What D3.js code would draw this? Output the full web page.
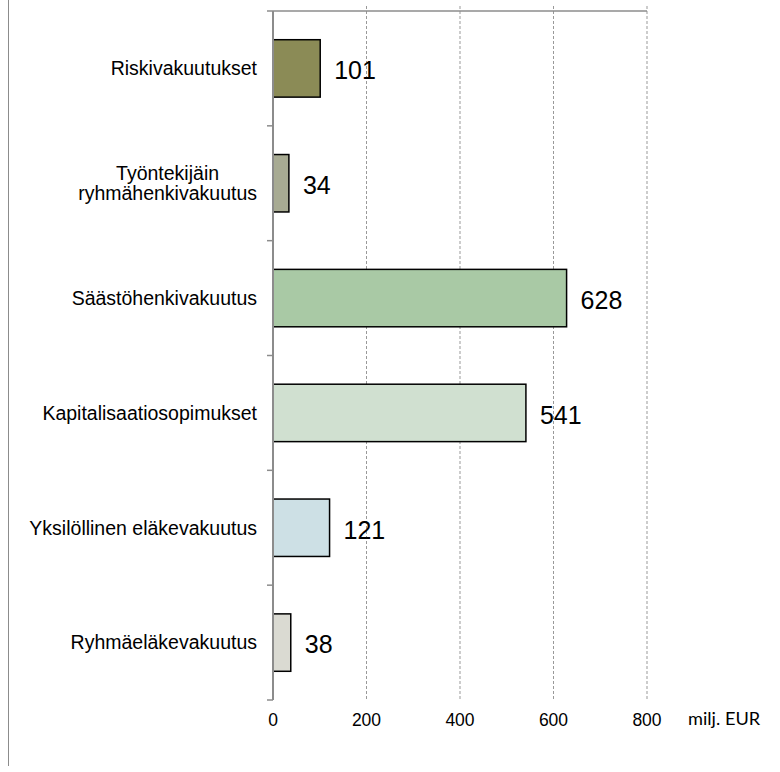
<!DOCTYPE html>
<html>
<head>
<meta charset="utf-8">
<script src="https://cdn.jsdelivr.net/npm/d3@7"></script>
<style>
  body { margin: 0; background: #fff; }
  text { font-family: Arial, "Liberation Sans", sans-serif; }
</style>
</head>
<body>
<svg id="chart" width="780" height="772"></svg>
<script>
// data
var categories = [
  ["Riskivakuutukset"],
  ["Työntekijäin", "ryhmähenkivakuutus"],
  ["Säästöhenkivakuutus"],
  ["Kapitalisaatiosopimukset"],
  ["Yksilöllinen eläkevakuutus"],
  ["Ryhmäeläkevakuutus"]
];
var values = [101, 34, 628, 541, 121, 38];
var colors = ["#8b8b56", "#a8ab93", "#a9c9a5", "#d0e0d0", "#cde0e5", "#dadad2"];
var xTicks = [0, 200, 400, 600, 800];
var unitLabel = "milj. EUR";

var svg = d3.select("#chart");
var margin = {left: 273, top: 11, right: 133, bottom: 72};
var W = 780, H = 772;

var x = d3.scaleLinear().domain([0, 800]).range([margin.left, W - margin.right]);
var y = d3.scaleBand().domain(d3.range(values.length))
  .range([margin.top, H - margin.bottom]).paddingInner(0.5).paddingOuter(0.25);

// outer left frame line
svg.append("line").attr("x1", 8.5).attr("x2", 8.5).attr("y1", 0).attr("y2", 766)
  .attr("stroke", "#8c8c8c").attr("stroke-width", 1);

// grid lines
svg.append("g").selectAll("line").data(xTicks.slice(1)).join("line")
  .attr("x1", d => x(d)).attr("x2", d => x(d))
  .attr("y1", margin.top - 5).attr("y2", H - margin.bottom)
  .attr("stroke", "#999").attr("stroke-width", 1).attr("stroke-dasharray", "3,2");

// top line
svg.append("line").attr("x1", x(0)).attr("x2", x(800))
  .attr("y1", margin.top).attr("y2", margin.top)
  .attr("stroke", "#8c8c8c").attr("stroke-width", 1.5);

// bars
svg.append("g").selectAll("rect").data(values).join("rect")
  .attr("x", x(0))
  .attr("y", (d, i) => y(i))
  .attr("width", d => x(d) - x(0))
  .attr("height", y.bandwidth())
  .attr("fill", (d, i) => colors[i])
  .attr("stroke", "#000").attr("stroke-width", 1.5);

// left axis
var yAxisG = svg.append("g").attr("transform", "translate(" + x(0) + ",0)");
var stepEdges = d3.range(values.length + 1).map(i => margin.top + i * y.step());
yAxisG.append("line").attr("x1", 0).attr("x2", 0)
  .attr("y1", margin.top).attr("y2", H - margin.bottom)
  .attr("stroke", "#8c8c8c").attr("stroke-width", 2);
yAxisG.selectAll(".tk").data(stepEdges).join("line").attr("class", "tk")
  .attr("x1", -6).attr("x2", 0).attr("y1", d => d).attr("y2", d => d)
  .attr("stroke", "#8c8c8c").attr("stroke-width", 1.5);

// category labels
categories.forEach(function(lines, i) {
  var cy = y(i) + y.bandwidth() / 2;
  var lh = 20.5;
  var t = svg.append("text").attr("font-size", 19.5).attr("fill", "#000");
  var spans = lines.map(function(l, j) {
    return t.append("tspan").text(l)
      .attr("y", cy + (j - (lines.length - 1) / 2) * lh).attr("dy", "0.35em");
  });
  var maxW = d3.max(spans, s => s.node().getComputedTextLength());
  var right = x(0) - 16;
  spans.forEach(s => s.attr("x", right - maxW / 2).attr("text-anchor", "middle"));
});

// value labels
svg.append("g").selectAll("text").data(values).join("text")
  .attr("x", d => x(d) + 14)
  .attr("y", (d, i) => y(i) + y.bandwidth() / 2 + 2)
  .attr("dy", "0.35em")
  .attr("font-size", 25).attr("fill", "#000")
  .text(d => d);

// x tick labels
svg.append("g").selectAll("text").data(xTicks).join("text")
  .attr("x", d => x(d)).attr("y", H - margin.bottom + 20)
  .attr("dy", "0.35em").attr("text-anchor", "middle")
  .attr("font-size", 17.5).text(d => d);

svg.append("text").attr("x", 688).attr("y", H - margin.bottom + 19)
  .attr("dy", "0.35em").attr("font-size", 18.2)
  .style("font-family", "Lato, 'Open Sans', sans-serif")
  .text(unitLabel);
</script>
</body>
</html>
